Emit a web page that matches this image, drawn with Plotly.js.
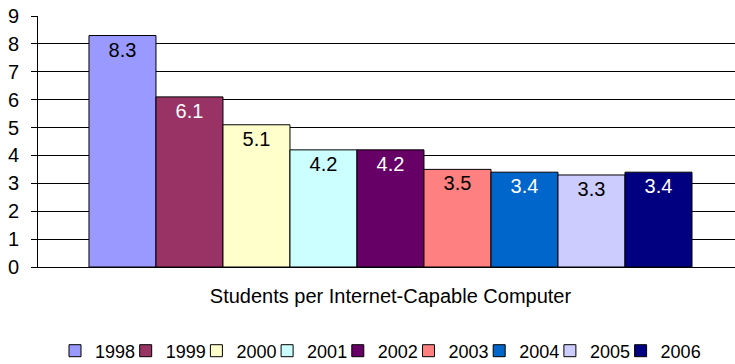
<!DOCTYPE html>
<html>
<head>
<meta charset="utf-8">
<script src="https://cdn.plot.ly/plotly-3.0.1.min.js"></script>
<style>html,body{margin:0;padding:0;background:#fff;}#chart{width:735px;height:364px;}</style>
</head>
<body>
<div id="chart"></div>
<script>
var category = 'Students per Internet-Capable Computer';
var years = ['1998', '1999', '2000', '2001', '2002', '2003', '2004', '2005', '2006'];
var values = [8.3, 6.1, 5.1, 4.2, 4.2, 3.5, 3.4, 3.3, 3.4];
var labels = ['8.3', '6.1', '5.1', '4.2', '4.2', '3.5', '3.4', '3.3', '3.4'];
var colors = ['#9999FF', '#993366', '#FFFFCC', '#CCFFFF', '#660066', '#FF8080', '#0066CC', '#CCCCFF', '#000080'];
var labelColors = ['#000000', '#FFFFFF', '#000000', '#000000', '#FFFFFF', '#000000', '#FFFFFF', '#000000', '#FFFFFF'];
var yTicks = [0, 1, 2, 3, 4, 5, 6, 7, 8, 9];

var FONT = 'Arial, "Liberation Sans", Helvetica, sans-serif';
var W = 735, H = 364;

function legendId(i) { return i === 0 ? 'legend' : 'legend' + (i + 1); }

var traces = years.map(function (yr, i) {
  return {
    type: 'bar',
    name: yr,
    legend: legendId(i),
    x: [category],
    y: [values[i]],
    text: [labels[i]],
    textposition: 'inside',
    insidetextanchor: 'end',
    constraintext: 'none',
    textfont: {family: FONT, size: 20, color: labelColors[i]},
    marker: {color: colors[i], line: {color: '#000000', width: 1}},
    hoverinfo: 'name+y'
  };
});

var layout = {
  width: W,
  height: H,
  margin: {l: 38, r: 0, t: 16, b: 97, pad: 0},
  paper_bgcolor: '#FFFFFF',
  plot_bgcolor: '#FFFFFF',
  font: {family: FONT, size: 20, color: '#000000'},
  barmode: 'group',
  bargap: 0.1446,
  bargroupgap: 0,
  showlegend: true,
  xaxis: {
    type: 'category',
    range: [-0.5, 0.4887],
    showline: true,
    linecolor: '#000000',
    linewidth: 1,
    ticks: '',
    showgrid: false,
    tickfont: {family: FONT, size: 20, color: '#000000'},
    ticklabelstandoff: 11
  },
  yaxis: {
    range: [0, 9],
    tickvals: yTicks,
    ticktext: yTicks.map(String),
    showline: true,
    linecolor: '#000000',
    linewidth: 1,
    ticks: 'outside',
    ticklen: 6,
    tickcolor: '#000000',
    showgrid: true,
    gridcolor: '#000000',
    gridwidth: 1,
    zeroline: false,
    tickfont: {family: FONT, size: 20, color: '#000000'},
    ticklabelstandoff: 8
  }
};

// one single-entry legend per year, laid out in a row below the chart
var legendStart = 55, legendPitch = 70.7;
years.forEach(function (yr, i) {
  layout[legendId(i)] = {
    orientation: 'h',
    xref: 'container',
    yref: 'container',
    x: (legendStart + legendPitch * i) / W,
    xanchor: 'left',
    y: 1 - 351 / H,
    yanchor: 'middle',
    font: {family: FONT, size: 18, color: '#000000'},
    bgcolor: 'rgba(0,0,0,0)',
    borderwidth: 0
  };
});

Plotly.newPlot('chart', traces, layout, {displayModeBar: false, staticPlot: true});
</script>
</body>
</html>
